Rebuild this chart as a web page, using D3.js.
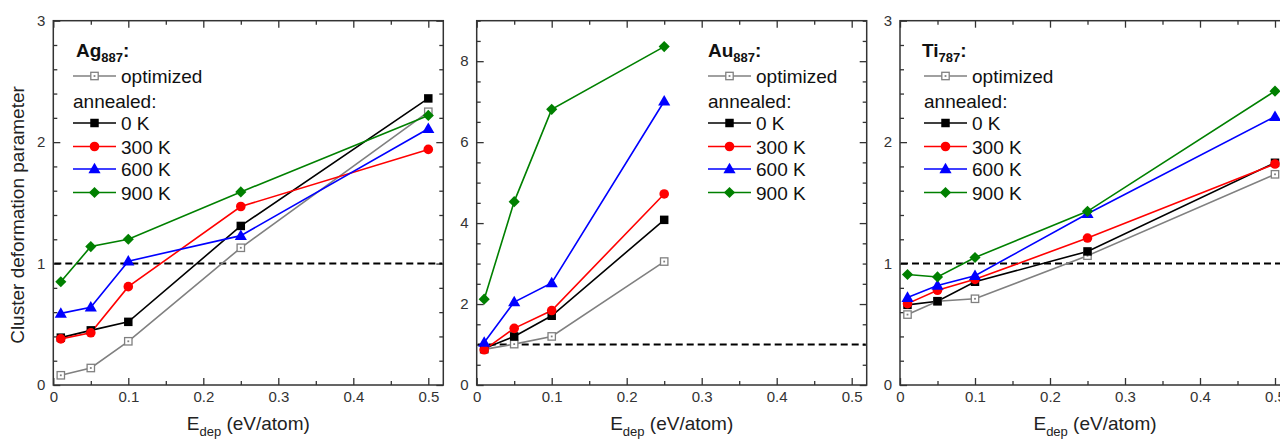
<!DOCTYPE html>
<html lang="en">
<head>
<meta charset="UTF-8">
<title>Cluster deformation parameter</title>
<script src="https://d3js.org/d3.v7.min.js"></script>
<style>
  * { margin: 0; padding: 0; }
  body { background: #fff; font-family: "Liberation Sans", Arial, sans-serif; }
  svg { display: block; }
  .tick text { font-family: "Liberation Sans", Arial, sans-serif; font-size: 15px; fill: #333; }
  .tick line { stroke: #333; stroke-width: 1.3; }
</style>
</head>
<body>
<svg id="chart" width="1280" height="441"></svg>
<script>
// Data
const eDep = [0.01, 0.05, 0.1, 0.25, 0.5];
const seriesNames = ['optimized', '0 K', '300 K', '600 K', '900 K'];

// Ag887
const agOptimized = [0.08, 0.14, 0.36, 1.13, 2.25];
const agK0   = [0.39, 0.45, 0.52, 1.31, 2.36];
const agK300 = [0.38, 0.43, 0.81, 1.47, 1.94];
const agK600 = [0.59, 0.64, 1.02, 1.23, 2.11];
const agK900 = [0.85, 1.14, 1.20, 1.59, 2.22];

// Au887 (only up to 0.25 eV/atom)
const auOptimized = [0.88, 1.01, 1.20, 3.05];
const auK0   = [0.90, 1.20, 1.71, 4.08];
const auK300 = [0.87, 1.40, 1.84, 4.72];
const auK600 = [1.05, 2.05, 2.52, 7.01];
const auK900 = [2.12, 4.53, 6.81, 8.36];

// Ti787
const tiOptimized = [0.58, 0.69, 0.71, 1.065, 1.735];
const tiK0   = [0.66, 0.69, 0.85, 1.10, 1.83];
const tiK300 = [0.67, 0.78, 0.87, 1.21, 1.82];
const tiK600 = [0.72, 0.82, 0.90, 1.41, 2.21];
const tiK900 = [0.91, 0.89, 1.05, 1.43, 2.42];

const xMajor = [0, 0.1, 0.2, 0.3, 0.4, 0.5];
const xMinor = [0.05, 0.15, 0.25, 0.35, 0.45];

const colors = ['#808080', '#000000', '#ff0000', '#0000ff', '#008000'];

const panels = [
  { el: 'Ag', sub: '887', left: 53.3, yMax: 3, yMajor: [0, 1, 2, 3], yStep: 0.2,
    series: [agOptimized, agK0, agK300, agK600, agK900], legendX: 73, titleX: 76 },
  { el: 'Au', sub: '887', left: 476.7, yMax: 9, yMajor: [0, 2, 4, 6, 8], yStep: 0.5,
    series: [auOptimized, auK0, auK300, auK600, auK900], legendX: 708, titleX: 708 },
  { el: 'Ti', sub: '787', left: 900, yMax: 3, yMajor: [0, 1, 2, 3], yStep: 0.2,
    series: [tiOptimized, tiK0, tiK300, tiK600, tiK900], legendX: 924, titleX: 922 }
];

const plotTop = 20.7, plotBottom = 385, plotW = 390;

const svg = d3.select('#chart');

function marker(g, i, cx, cy) {
  const c = colors[i];
  if (i === 0) {
    g.append('rect').attr('x', cx - 3.7).attr('y', cy - 3.7).attr('width', 7.4).attr('height', 7.4)
      .attr('fill', '#fff').attr('stroke', c).attr('stroke-width', 1.3);
    g.append('rect').attr('x', cx - 0.9).attr('y', cy - 0.9).attr('width', 1.8).attr('height', 1.8)
      .attr('fill', c);
  } else if (i === 1) {
    g.append('path').attr('d', d3.symbol(d3.symbolSquare, 72)()).attr('transform', `translate(${cx},${cy})`).attr('fill', c);
  } else if (i === 2) {
    g.append('circle').attr('cx', cx).attr('cy', cy).attr('r', 4.8).attr('fill', c);
  } else if (i === 3) {
    g.append('path').attr('d', d3.symbol(d3.symbolTriangle, 64)()).attr('transform', `translate(${cx},${cy + 0.8})`).attr('fill', c);
  } else {
    g.append('path').attr('d', d3.symbol(d3.symbolSquare, 62)()).attr('transform', `translate(${cx},${cy}) rotate(45)`).attr('fill', c);
  }
}

panels.forEach(p => {
  const x = d3.scaleLinear().domain([0, 0.52]).range([p.left, p.left + plotW]);
  const y = d3.scaleLinear().domain([0, p.yMax]).range([plotBottom, plotTop]);
  const g = svg.append('g');

  const yMinor = d3.range(0, p.yMax + 1e-9, p.yStep).map(v => +v.toFixed(3)).filter(v => !p.yMajor.includes(v));

  // axes, ticks pointing inward
  const addAxis = (axis, tr) => {
    const a = g.append('g').attr('transform', tr).call(axis);
    a.select('.domain').remove();
    return a;
  };
  addAxis(d3.axisBottom(x).tickValues(xMajor).tickFormat(d3.format('')).tickSize(-7).tickPadding(6), `translate(0,${plotBottom})`);
  addAxis(d3.axisBottom(x).tickValues(xMinor).tickFormat('').tickSize(-4), `translate(0,${plotBottom})`);
  addAxis(d3.axisTop(x).tickValues(xMajor).tickFormat('').tickSize(-7), `translate(0,${plotTop})`);
  addAxis(d3.axisTop(x).tickValues(xMinor).tickFormat('').tickSize(-4), `translate(0,${plotTop})`);
  addAxis(d3.axisLeft(y).tickValues(p.yMajor).tickFormat(d3.format('')).tickSize(-7).tickPadding(8), `translate(${p.left},0)`);
  addAxis(d3.axisLeft(y).tickValues(yMinor).tickFormat('').tickSize(-4), `translate(${p.left},0)`);
  addAxis(d3.axisRight(y).tickValues(p.yMajor).tickFormat('').tickSize(-7), `translate(${p.left + plotW},0)`);
  addAxis(d3.axisRight(y).tickValues(yMinor).tickFormat('').tickSize(-4), `translate(${p.left + plotW},0)`);

  g.append('rect').attr('x', p.left).attr('y', plotTop).attr('width', plotW).attr('height', plotBottom - plotTop)
    .attr('fill', 'none').attr('stroke', '#333').attr('stroke-width', 1.5);

  // reference line at 1
  g.append('line').attr('x1', p.left + 1).attr('x2', p.left + plotW - 1)
    .attr('y1', y(1)).attr('y2', y(1))
    .attr('stroke', '#000').attr('stroke-width', 2).attr('stroke-dasharray', '7,4');

  // series
  const line = d3.line().x(d => x(d[0])).y(d => y(d[1]));
  p.series.forEach((vals, i) => {
    const pts = vals.map((v, k) => [eDep[k], v]);
    g.append('path').datum(pts).attr('d', line).attr('fill', 'none')
      .attr('stroke', colors[i]).attr('stroke-width', 1.6);
  });
  p.series.forEach((vals, i) => {
    vals.forEach((v, k) => marker(g, i, x(eDep[k]), y(v)));
  });

  // legend
  const title = g.append('text').attr('x', p.titleX).attr('y', 57)
    .attr('font-size', 19).attr('font-weight', 'bold').attr('fill', '#111');
  title.append('tspan').text(p.el);
  title.append('tspan').attr('font-size', 13).attr('dy', 5).text(p.sub);
  title.append('tspan').attr('dy', -5).text(':');

  const rowY = [76, 123, 146.5, 169, 192.5];
  seriesNames.forEach((name, i) => {
    const cy = rowY[i];
    g.append('line').attr('x1', p.legendX).attr('x2', p.legendX + 43).attr('y1', cy).attr('y2', cy)
      .attr('stroke', colors[i]).attr('stroke-width', 1.6);
    marker(g, i, p.legendX + 21.5, cy);
    g.append('text').attr('x', p.legendX + 48).attr('y', cy + 7)
      .attr('font-size', 19).attr('fill', '#111').text(name);
  });
  g.append('text').attr('x', p.legendX).attr('y', 108)
    .attr('font-size', 19).attr('fill', '#111').text('annealed:');

  // x label
  const xl = g.append('text').attr('x', p.left + plotW / 2).attr('y', 430)
    .attr('text-anchor', 'middle').attr('font-size', 19).attr('fill', '#222');
  xl.append('tspan').text('E');
  xl.append('tspan').attr('font-size', 13).attr('dy', 6).text('dep');
  xl.append('tspan').attr('dy', -6).text(' (eV/atom)');
});

svg.append('text').attr('transform', 'translate(24,215) rotate(-90)')
  .attr('text-anchor', 'middle').attr('font-size', 19).attr('fill', '#222')
  .text('Cluster deformation parameter');
</script>
</body>
</html>
